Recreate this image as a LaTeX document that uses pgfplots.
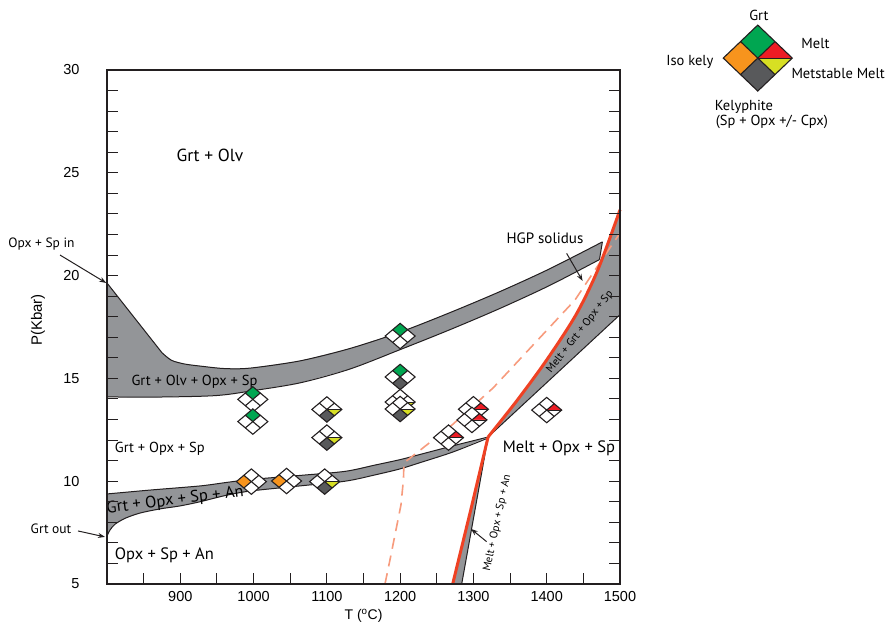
\documentclass[border=0pt]{standalone}
\usepackage{fontspec}
\setmainfont{PT Sans}
\newfontfamily\hel{Liberation Sans}
\usepackage{pgfplots}
\pgfplotsset{compat=1.18}
\usetikzlibrary{arrows.meta}
\newcommand\fs[1]{\fontsize{#1}{#1}\selectfont}
\definecolor{cG}{RGB}{0,166,81}
\definecolor{cR}{RGB}{237,28,36}
\definecolor{cO}{RGB}{247,148,29}
\definecolor{cY}{RGB}{215,223,35}
\definecolor{cK}{RGB}{88,89,91}
\definecolor{cBand}{RGB}{147,149,152}
\definecolor{cLine}{RGB}{35,31,32}
\definecolor{cSol}{RGB}{239,65,35}
\definecolor{cDash}{RGB}{247,155,125}
\newcommand\dmd[8]{%
  \begin{pgfscope}%
  \pgfmathsetlengthmacro\da{#1}%
  \pgfmathsetlengthmacro\db{#2}%
  \pgfmathsetlengthmacro\dah{0.5*(#1)}%
  \pgfmathsetlengthmacro\dbh{0.5*(#2)}%
  \pgfsetfillcolor{white}%
  \pgfpathmoveto{\pgfqpoint{0pt}{\db}}\pgfpathlineto{\pgfqpoint{\da}{0pt}}%
  \pgfpathlineto{\pgfqpoint{0pt}{-\db}}\pgfpathlineto{\pgfqpoint{-\da}{0pt}}\pgfpathclose
  \pgfusepath{fill}%
  \pgfsetfillcolor{#3}%
  \pgfpathmoveto{\pgfqpoint{0pt}{\db}}\pgfpathlineto{\pgfqpoint{\dah}{\dbh}}%
  \pgfpathlineto{\pgfqpoint{0pt}{0pt}}\pgfpathlineto{\pgfqpoint{-\dah}{\dbh}}\pgfpathclose
  \pgfusepath{fill}%
  \pgfsetfillcolor{#4}%
  \pgfpathmoveto{\pgfqpoint{-\dah}{\dbh}}\pgfpathlineto{\pgfqpoint{0pt}{0pt}}%
  \pgfpathlineto{\pgfqpoint{-\dah}{-\dbh}}\pgfpathlineto{\pgfqpoint{-\da}{0pt}}\pgfpathclose
  \pgfusepath{fill}%
  \pgfsetfillcolor{#5}%
  \pgfpathmoveto{\pgfqpoint{0pt}{0pt}}\pgfpathlineto{\pgfqpoint{\dah}{\dbh}}%
  \pgfpathlineto{\pgfqpoint{\da}{0pt}}\pgfpathclose
  \pgfusepath{fill}%
  \pgfsetfillcolor{#6}%
  \pgfpathmoveto{\pgfqpoint{0pt}{0pt}}\pgfpathlineto{\pgfqpoint{\da}{0pt}}%
  \pgfpathlineto{\pgfqpoint{\dah}{-\dbh}}\pgfpathclose
  \pgfusepath{fill}%
  \pgfsetfillcolor{#7}%
  \pgfpathmoveto{\pgfqpoint{0pt}{0pt}}\pgfpathlineto{\pgfqpoint{\dah}{-\dbh}}%
  \pgfpathlineto{\pgfqpoint{0pt}{-\db}}\pgfpathlineto{\pgfqpoint{-\dah}{-\dbh}}\pgfpathclose
  \pgfusepath{fill}%
  \pgfsetstrokecolor{cLine}\pgfsetlinewidth{1.1pt}%
  \ifnum#8=1
    \begin{pgfscope}\pgfsetlinewidth{0.6pt}%
    \pgfpathmoveto{\pgfqpoint{0pt}{0pt}}\pgfpathlineto{\pgfqpoint{\da}{0pt}}\pgfusepath{stroke}%
    \end{pgfscope}%
  \fi
  \pgfpathmoveto{\pgfqpoint{0pt}{\db}}\pgfpathlineto{\pgfqpoint{\da}{0pt}}%
  \pgfpathlineto{\pgfqpoint{0pt}{-\db}}\pgfpathlineto{\pgfqpoint{-\da}{0pt}}\pgfpathclose
  \pgfpathmoveto{\pgfqpoint{-\dah}{\dbh}}\pgfpathlineto{\pgfqpoint{\dah}{-\dbh}}%
  \pgfpathmoveto{\pgfqpoint{\dah}{\dbh}}\pgfpathlineto{\pgfqpoint{-\dah}{-\dbh}}%
  \pgfusepath{stroke}%
  \end{pgfscope}%
}
\pgfdeclareplotmark{mG}{\dmd{15pt}{12.7pt}{cG}{white}{white}{white}{white}{0}}
\pgfdeclareplotmark{mGK}{\dmd{15pt}{12.7pt}{cG}{white}{white}{white}{cK}{0}}
\pgfdeclareplotmark{mKY}{\dmd{15pt}{12.7pt}{white}{white}{white}{cY}{cK}{1}}
\pgfdeclareplotmark{mO}{\dmd{15pt}{12.7pt}{white}{cO}{white}{white}{white}{0}}
\pgfdeclareplotmark{mR}{\dmd{15pt}{12.7pt}{white}{white}{cR}{white}{white}{1}}
\pgfdeclareplotmark{mLeg}{\dmd{34.5pt}{33pt}{cG}{cO}{cR}{cY}{cK}{1}}
\begin{document}
\begin{tikzpicture}
\useasboundingbox (0pt,0pt) rectangle (888pt,625pt);
\begin{axis}[
  at={(107pt,41pt)}, anchor=south west,
  scale only axis, width=513pt, height=514pt,
  xmin=800, xmax=1500, ymin=5, ymax=30,
  xtick={900,1000,...,1500}, minor xtick={850,950,...,1450},
  ytick={5,10,...,30},
  minor ytick={6,7,8,9,11,12,13,14,16,17,18,19,21,22,23,24,26,27,28,29},
  xtick pos=left, ytick pos=both, yticklabel pos=left,
  tick align=inside,
  major tick length=11pt, minor tick length=11pt,
  every tick/.append style={line width=1pt, cLine},
  axis line style={line width=1.2pt, cLine},
  tick label style={font=\hel\fs{14.5}},
  /pgf/number format/assume math mode=true,
  /pgf/number format/1000 sep={},
  yticklabel style={xshift=-24pt},
  xticklabel style={yshift=-4pt},
  xlabel={T (\textsuperscript{o}C)}, ylabel={P(Kbar)},
  xlabel style={font=\hel\fs{14}, at={(axis description cs:0.5,-0.0623)}, anchor=center},
  ylabel style={font=\hel\fs{15}, at={(axis description cs:-0.1345,0.5136)}, anchor=center},
  clip=false, axis on top,
]
% upper band: Grt + Olv + Opx + Sp
\addplot[fill=cBand, draw=none] coordinates {
 (800,19.64) (875,16.25) (888,15.88) (906,15.70) (927,15.60) (960,15.48) (995,15.50)
 (1063,15.85) (1131,16.45) (1200,17.25) (1268,18.20) (1336,19.22) (1404,20.33)
 (1476,21.64)
 (1472,20.78) (1404,19.52) (1336,18.40) (1268,17.37) (1200,16.40)
 (1131,15.45) (1063,14.78) (995,14.38) (960,14.20) (927,14.13) (860,14.09) (800,14.10)
} -- cycle;
\addplot[cLine, line width=1pt] coordinates {(800,19.64) (875,16.25)};
\addplot[cLine, line width=1pt, smooth, tension=0.5] coordinates {
 (875,16.25) (888,15.88) (906,15.70) (927,15.60) (960,15.48) (995,15.50)
 (1063,15.85) (1131,16.45) (1200,17.25) (1268,18.20) (1336,19.22) (1404,20.33)
 (1476,21.64)};
\addplot[cLine, line width=1pt, smooth, tension=0.5] coordinates {
 (800,14.10) (860,14.09) (927,14.13) (960,14.20) (995,14.38) (1063,14.78) (1131,15.45)
 (1200,16.40) (1268,17.37) (1336,18.40) (1404,19.52) (1472,20.78)};
\addplot[cLine, line width=1pt] coordinates {(1476,21.64) (1472,20.78)};
% lower band: Grt + Opx + Sp + An
\addplot[fill=cBand, draw=none] coordinates {
 (800,9.38) (859,9.57) (927,9.77) (961,9.93) (995,10.08) (1063,10.28) (1125,10.48)
 (1165,10.78) (1200,11.05) (1227,11.30) (1272,11.72) (1320,12.15)
 (1272,11.42) (1227,10.9) (1200,10.6) (1165,10.3) (1125,10.0) (1063,9.77) (995,9.52)
 (961,9.3) (927,9.0) (900,8.80) (872,8.65) (845,8.45) (825,8.2) (811,7.91) (804,7.62) (800,7.33)
} -- cycle;
\addplot[cLine, line width=1pt, smooth, tension=0.5] coordinates {
 (800,9.38) (859,9.57) (927,9.77) (961,9.93) (995,10.08) (1063,10.28) (1125,10.48)
 (1165,10.78) (1200,11.05) (1227,11.30) (1272,11.72) (1320,12.15)};
\addplot[cLine, line width=1pt, smooth, tension=0.5] coordinates {
 (800,7.33) (804,7.62) (811,7.91) (825,8.2) (845,8.45) (872,8.65) (900,8.80) (927,9.0)
 (961,9.3) (995,9.52) (1063,9.77) (1125,10.0) (1165,10.3) (1200,10.6) (1227,10.9)
 (1272,11.42) (1320,12.10)};
% Melt + Grt + Opx + Sp band
\addplot[fill=cBand, draw=none] coordinates {
 (1320,12.15) (1360,13.95) (1400,15.9) (1440,18.1) (1470,20.3) (1500,23.2) (1500,18.1)
} -- cycle;
\addplot[cLine, line width=1pt] coordinates {(1320,12.15) (1500,18.1)};
% Melt + Opx + Sp + An wedge
\addplot[fill=cBand, draw=none] coordinates {(1320,12.15) (1271.7,5) (1284,5)} -- cycle;
\addplot[cLine, line width=1pt] coordinates {(1320,12.15) (1284,5)};
% dashed line
\addplot[cDash, line width=1.6pt, dash pattern=on 11pt off 7pt] coordinates {
 (1179.3,5.0) (1186.1,6.17) (1194.3,7.63) (1201.1,8.84) (1204.5,10.06) (1205.2,10.89)
 (1270.7,12.73) (1326.7,14.53) (1438.5,18.81) (1468.6,20.42) (1500,22.07)};
% HGP solidus (red)
\addplot[cSol, line width=3pt] coordinates {(1271.7,5) (1296,8.55) (1320,12.15)};
\addplot[cSol, line width=3pt, smooth, tension=0.5] coordinates {
 (1320,12.15) (1360,13.95) (1400,15.9) (1440,18.1) (1470,20.3) (1500,23.2)};
% experiment symbols
\addplot[only marks, mark=mG] coordinates {(1200,17.06) (999,13.98) (999,12.9)};
\addplot[only marks, mark=mGK] coordinates {(1200,15.07)};
\addplot[only marks, mark=mKY] coordinates {(1200,13.85) (1200,13.51) (1100,13.49) (1100,12.12) (1097,9.98)};
\addplot[only marks, mark=mO] coordinates {(997,9.98) (1045,10.01)};
\addplot[only marks, mark=mR] coordinates {(1266,12.12) (1300,13.5) (1298,12.98) (1400,13.46)};
% legend symbol
\addplot[only marks, mark=mLeg] coordinates {(1688,30.58)};
% region labels
\node[font=\fs{17.5}] at (axis cs:940.5,25.87) {Grt + Olv};
\node[font=\fs{14.5}] at (axis cs:919.4,14.82) {Grt + Olv + Opx + Sp};
\node[font=\fs{14.5}, anchor=west] at (axis cs:806,11.57) {Grt + Opx + Sp};
\node[font=\fs{16.5}, rotate=7] at (axis cs:893,9.06) {Grt + Opx + Sp + An};
\node[font=\fs{16.5}, anchor=west] at (axis cs:806,6.41) {Opx + Sp + An};
\node[font=\fs{16.5}] at (axis cs:1416.7,11.6) {Melt + Opx + Sp};
\node[font=\fs{15}] at (axis cs:1397.6,21.81) {HGP solidus};
\node[font=\fs{11}, rotate=52, inner sep=0pt] at (axis cs:1445.4,17.26) {Melt + Grt + Opx + Sp};
\node[font=\fs{11}, rotate=78, inner sep=0pt] at (axis cs:1332.7,7.97) {Melt + Opx + Sp + An};
\node[font=\fs{13.5}] at (axis cs:710.6,21.54) {Opx + Sp in};
\node[font=\fs{13.5}] at (axis cs:723.6,7.71) {Grt out};
% arrows
\draw[cLine, line width=1pt, -{Stealth[length=7pt,width=5pt]}] (axis cs:735.9,21.0) -- (axis cs:799,19.64);
\draw[cLine, line width=1pt, -{Stealth[length=7pt,width=5pt]}] (axis cs:760.4,7.58) -- (axis cs:797.3,7.29);
\draw[cLine, line width=1pt, -{Stealth[length=7pt,width=5pt]}] (axis cs:1427.2,21.08) -- (axis cs:1449,19.74);
\draw[cLine, line width=1pt, -{Stealth[length=7pt,width=5pt]}] (axis cs:1318,7.06) -- (axis cs:1296.6,7.68);
% legend texts
\node[font=\fs{14.5}] at (axis cs:1689.6,32.67) {Grt};
\node[font=\fs{14.5}, anchor=west] at (axis cs:1742.8,31.31) {Melt};
\node[font=\fs{14.5}, anchor=east] at (axis cs:1632.3,30.39) {Iso kely};
\node[font=\fs{14.5}, anchor=west] at (axis cs:1729.2,29.85) {Metstable Melt};
\node[font=\fs{14.5}] at (axis cs:1669.1,28.2) {Kelyphite};
\node[font=\fs{14.5}] at (axis cs:1707.3,27.47) {(Sp + Opx +/- Cpx)};
\end{axis}
\end{tikzpicture}
\end{document}
